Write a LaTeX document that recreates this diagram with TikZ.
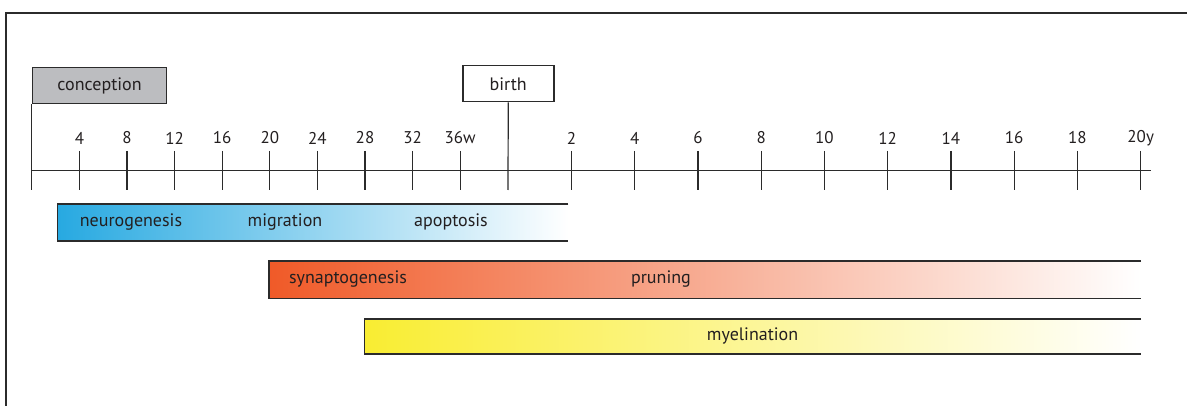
\documentclass[tikz,border=0pt]{standalone}
\usepackage{fontspec}
\setmainfont{PT Sans}
\definecolor{linec}{HTML}{2B2B2B}
\definecolor{txt}{HTML}{231F20}
\definecolor{boxgray}{HTML}{BCBDC0}
\definecolor{barblue}{HTML}{27A9E1}
\definecolor{barorange}{HTML}{F05A28}
\definecolor{baryellow}{HTML}{F9ED32}
\begin{document}
\begin{tikzpicture}[x=1pt,y=-1pt,
  every node/.style={font=\fontsize{18}{21}\selectfont, text=txt},
  numlbl/.style={font=\fontsize{17}{20}\selectfont},
  frameline/.style={draw=linec, line width=1.5},
  axisline/.style={draw=linec, line width=1.4},
  tickline/.style={draw=linec, line width=1.2},
  marker/.style={draw=linec, line width=1.5, minimum height=36, inner sep=0, anchor=north west},
  barborder/.style={draw=linec, line width=1.5},
  lbl/.style={inner sep=0, anchor=center}]
\useasboundingbox (0,0) rectangle (1187,406);
% frame (cropped on right and bottom)
\draw[frameline] (6,420) -- (6,13) -- (1200,13);
% event markers
\node[marker, fill=boxgray, minimum width=134] (conc) at (31.8,66.7) {conception};
\node[marker, fill=white, minimum width=91] (birth) at (462,65) {birth};
\coordinate (c0) at (31.8,190);
\coordinate (b0) at (508,190);
\draw[tickline] (conc.south west) -- (c0);
\draw[tickline] (birth.south) -- (b0);
% axis
\coordinate (axL) at (31.8,170.7);
\coordinate (axR) at (1151,170.7);
\draw[axisline] (axL) -- (axR);
% week ticks
\foreach \i/\t in {1/4,2/8,3/12,4/16,5/20,6/24,7/28,8/32,9/36w}{
  \pgfmathsetmacro{\xx}{31.8+\i*47.6}
  \coordinate (wt\i) at (\xx,151);
  \coordinate (wb\i) at (\xx,190);
  \draw[tickline] (wt\i) -- (wb\i);
  \node[lbl, numlbl] (wl\i) at (\xx,138) {\t};
}
% year ticks
\foreach \j/\t in {1/2,2/4,3/6,4/8,5/10,6/12,7/14,8/16,9/18,10/20y}{
  \pgfmathsetmacro{\xx}{508.2+\j*63.25}
  \coordinate (yt\j) at (\xx,151);
  \coordinate (yb\j) at (\xx,190);
  \draw[tickline] (yt\j) -- (yb\j);
  \node[lbl, numlbl] (yl\j) at (\xx,138) {\t};
}
% bars
\shade[left color=barblue, right color=white] (57.4,204) rectangle (568.3,241);
\draw[barborder] (568.3,204) -- (57.4,204) -- (57.4,241) -- (568.3,241);
\node[lbl] (neuro) at (131,222) {neurogenesis};
\node[lbl] (migr) at (285,222) {migration};
\node[lbl] (apop) at (451,222) {apoptosis};

\shade[left color=barorange, right color=white] (269,261) rectangle (1141,298.5);
\draw[barborder] (1141,261) -- (269,261) -- (269,298.5) -- (1141,298.5);
\node[lbl] (syn) at (348,279) {synaptogenesis};
\node[lbl] (prun) at (661,279) {pruning};

\shade[left color=baryellow, right color=white] (364.7,319) rectangle (1141,354);
\draw[barborder] (1141,319) -- (364.7,319) -- (364.7,354) -- (1141,354);
\node[lbl] (myel) at (752.6,336) {myelination};
\end{tikzpicture}
\end{document}
